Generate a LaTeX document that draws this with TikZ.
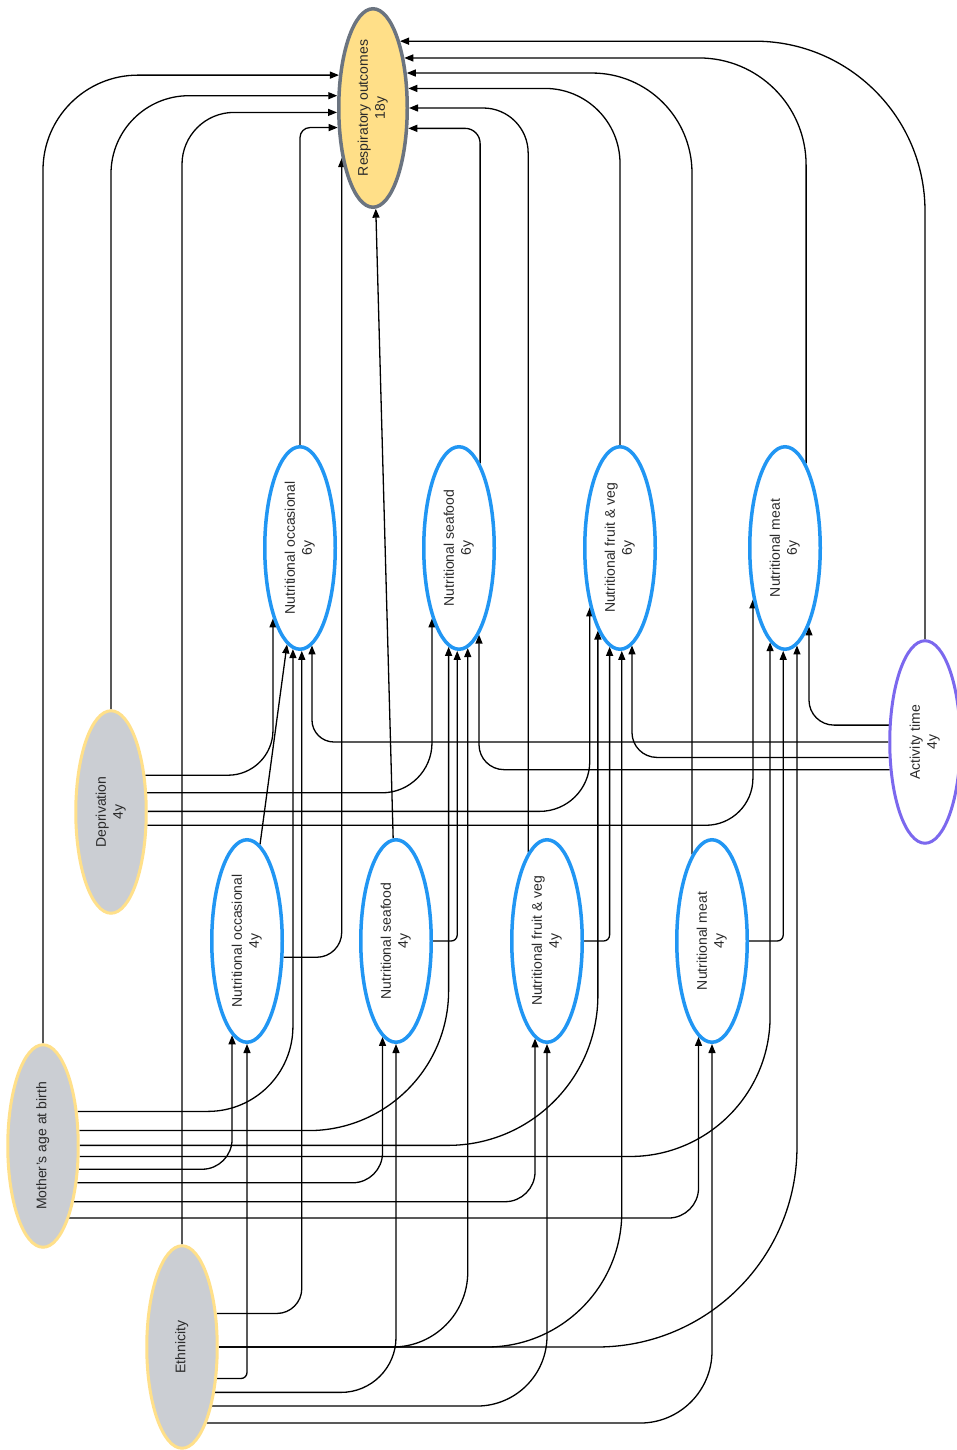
\documentclass[tikz,border=0pt]{standalone}
\usepackage{fontspec}
\setmainfont{Liberation Sans}
\usetikzlibrary{arrows.meta,shapes.geometric,backgrounds}
\definecolor{nutblue}{HTML}{2196F3}
\definecolor{outfill}{HTML}{FFDF88}
\definecolor{outline}{HTML}{6B7480}
\definecolor{confill}{HTML}{CBCED3}
\definecolor{conline}{HTML}{FFE08A}
\definecolor{actline}{HTML}{7B68EE}
\definecolor{txt}{HTML}{2A2A2A}
% vertical two-line label, read bottom to top
\newcommand\vlabel[1]{\rotatebox{90}{\fontsize{14}{17}\selectfont\begin{tabular}{@{}c@{}}#1\end{tabular}}}
\tikzset{
  var/.style={ellipse, inner sep=0pt, minimum width=70.5pt, minimum height=202.5pt,
              line width=3.5pt, text=txt},
  nutri/.style={var, draw=nutblue, fill=white},
  outcome/.style={var, draw=outline, fill=outfill, minimum width=68.5pt, minimum height=198.5pt},
  confounder/.style={var, draw=conline, fill=confill, line width=3pt},
  exposure/.style={var, draw=actline, fill=white, line width=3pt},
  link/.style={draw=black, line width=1.3pt, -{Triangle[length=9pt,width=7pt]}},
}
\begin{document}
\begin{tikzpicture}[x=1pt,y=-1pt]
\useasboundingbox (0,0) rectangle (956,1450);

% variables
\node[outcome] (resp) at (373,108) {\vlabel{Respiratory outcomes\\18y}};
\node[nutri] (occ6) at (300,548) {\vlabel{Nutritional occasional\\6y}};
\node[nutri] (sea6) at (459,548) {\vlabel{Nutritional seafood\\6y}};
\node[nutri] (fv6) at (620,548) {\vlabel{Nutritional fruit \& veg\\6y}};
\node[nutri] (meat6) at (785,548) {\vlabel{Nutritional meat\\6y}};
\node[exposure] (act) at (925,742) {\vlabel{Activity time\\4y}};
\node[confounder] (dep) at (111,812) {\vlabel{Deprivation\\4y}};
\node[nutri] (occ4) at (247,941) {\vlabel{Nutritional occasional\\4y}};
\node[nutri] (sea4) at (396,941) {\vlabel{Nutritional seafood\\4y}};
\node[nutri] (fv4) at (547,941) {\vlabel{Nutritional fruit \& veg\\4y}};
\node[nutri] (meat4) at (712,941) {\vlabel{Nutritional meat\\4y}};
\node[confounder] (moth) at (43,1146) {\vlabel{Mother’s age at birth}};
\node[confounder] (eth) at (182,1347) {\vlabel{Ethnicity}};

\begin{scope}[on background layer]
\fill[white] (0,0) rectangle (956,1450);

% paths into the outcome
\draw[link, rounded corners=95pt] (moth.north) |- (resp.136.9);
\draw[link, rounded corners=78pt] (dep.north) |- (resp.161.4);
\draw[link, rounded corners=52pt] (eth.north) |- (resp.187.9);
\draw[link, rounded corners=10pt] (occ6.north) |- (resp.209.5);
\draw[link, rounded corners=25pt] (occ4.336.4) -| (resp.238.9);
\draw[link] (sea4) -- (resp);
\draw[link, rounded corners=15pt] (sea6.76.1) |- (resp.330.5);
\draw[link, rounded corners=45pt] (fv4.102.1) |- (resp.east);
\draw[link, rounded corners=75pt] (fv6.north) |- (resp.29.5);
\draw[link, rounded corners=100pt] (meat4.103.0) |- (resp.46.0);
\draw[link, rounded corners=107pt] (meat6.76.1) |- (resp.58.0);
\draw[link, rounded corners=170pt] (act.north) |- (resp.68.1);

% deprivation
\draw[link, rounded corners=45pt] (dep.47.8) -| (occ6.249.0);
\draw[link, rounded corners=50pt] (dep.28.85) -| (sea6.249.0);
\draw[link, rounded corners=50pt] (dep.1.5) -| (fv6.243.6);
\draw[link, rounded corners=47pt] (dep.340.5) -| (meat6.238.3);

% activity time
\draw[link, rounded corners=25pt] (act.155.0) -| (meat6.287.0);
\draw[link, rounded corners=22pt] (act.west) -| (occ6.277.7);
\draw[link, rounded corners=25pt] (act.203.6) -| (fv6.277.7);
\draw[link, rounded corners=25pt] (act.218.2) -| (sea6.283.9);

% mother's age at birth
\draw[link, rounded corners=85pt] (moth.45.2) -| (occ6.266.0);
\draw[link, rounded corners=140pt] (moth.23.6) -| (sea6.264.2);
\draw[link, rounded corners=150pt] (moth.1.5) -| (fv6.255.1);
\draw[link, rounded corners=140pt] (moth.344.8) -| (meat6.261.0);
\draw[link, rounded corners=30pt] (moth.327.5) -| (occ4.261.6);
\draw[link, rounded corners=30pt] (moth.313.0) -| (sea4.262.3);
\draw[link, rounded corners=30pt] (moth.299.6) -| (fv4.263.0);
\draw[link, rounded corners=30pt] (moth.290.2) -| (meat4.262.3);

% ethnicity
\draw[link, rounded corners=25pt] (eth.44.2) -| (occ6.271.1);
\draw[link, rounded corners=75pt] (eth.east) -| (sea6.275.1);
\draw[link, rounded corners=135pt] (eth.east) -| (fv6.271.1);
\draw[link, rounded corners=200pt] (eth.east) -| (meat6.277.0);
\draw[link, rounded corners=6pt] (eth.318.7) -| (occ4.south);
\draw[link, rounded corners=55pt] (eth.306.5) -| (sea4.south);
\draw[link, rounded corners=70pt] (eth.297.2) -| (fv4.south);
\draw[link, rounded corners=72pt] (eth.288.2) -| (meat4.south);

% 4y intake to 6y intake
\draw[link] (occ4) -- (occ6);
\draw[link, rounded corners=6pt] (sea4.east) -| (sea6.269.4);
\draw[link, rounded corners=6pt] (fv4.east) -| (fv6.264.2);
\draw[link, rounded corners=6pt] (meat4.east) -| (meat6.269.4);
\end{scope}
\end{tikzpicture}
\end{document}
